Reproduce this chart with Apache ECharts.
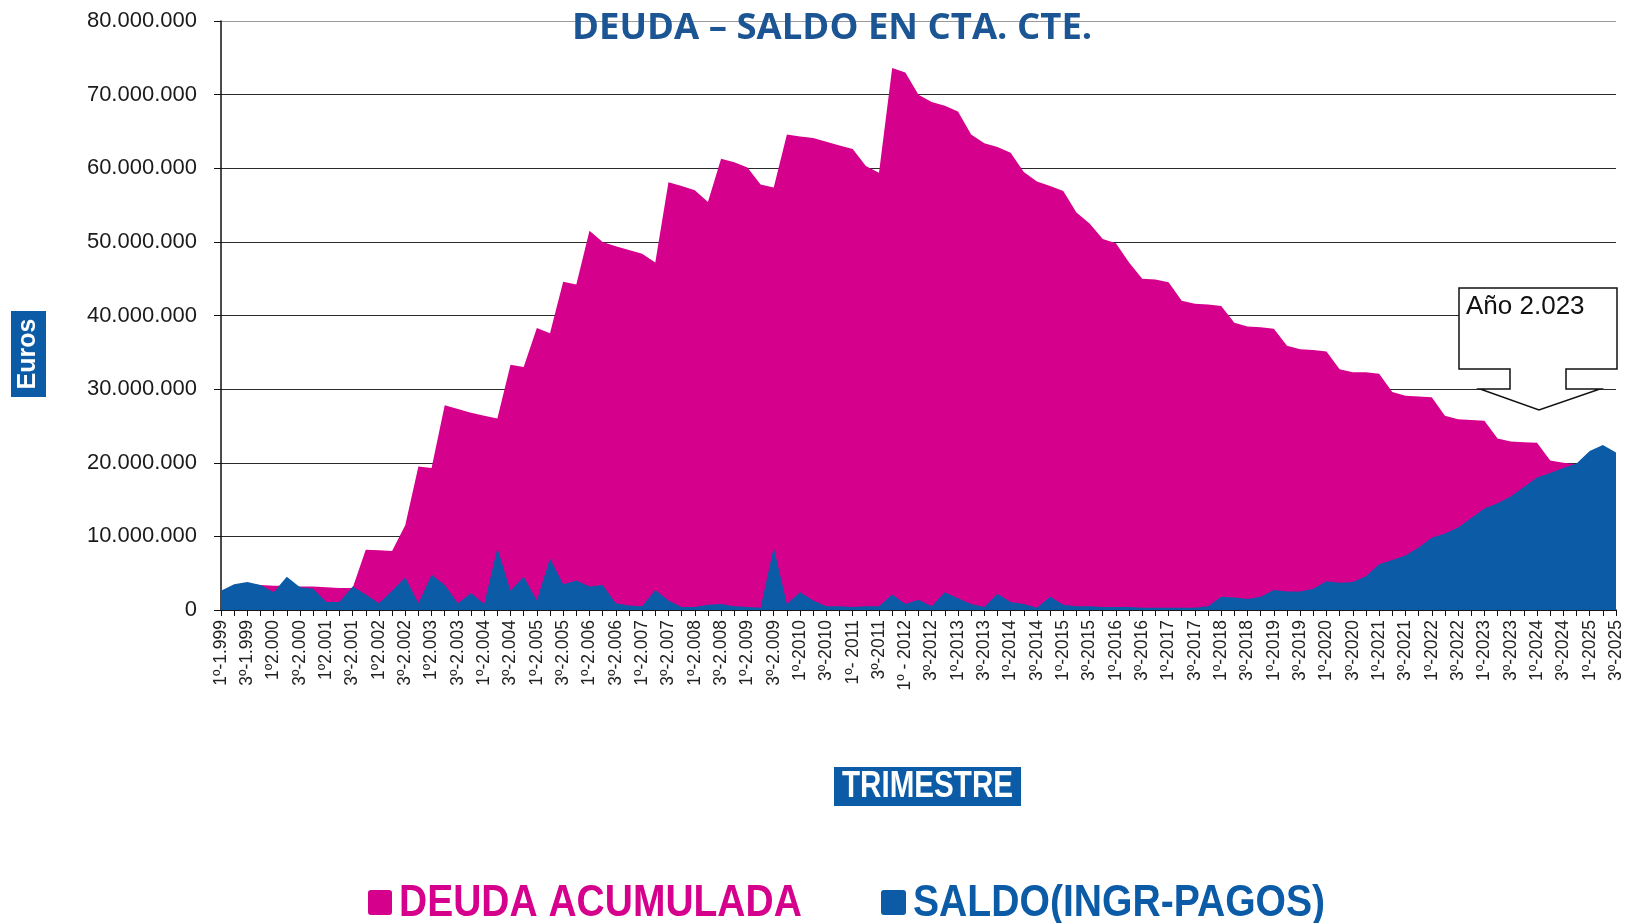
<!DOCTYPE html>
<html lang="es">
<head>
<meta charset="utf-8">
<title>Deuda – Saldo en cta. cte.</title>
<script src="https://cdn.jsdelivr.net/npm/echarts@6/dist/echarts.min.js"></script>
<style>
  html, body { margin: 0; padding: 0; background: #ffffff; }
  #chart { width: 1625px; height: 923px; }
</style>
</head>
<body>
<div id="chart"></div>
<script>
// Trimestres (etiqueta visible cada dos trimestres)
const categorias = [
  "1º-1.999","2º-1.999","3º-1.999","4º-1.999",
  "1º2.000","2º-2.000","3º-2.000","4º-2.000",
  "1º2.001","2º-2.001","3º-2.001","4º-2.001",
  "1º2.002","2º-2.002","3º-2.002","4º-2.002",
  "1º2.003","2º-2.003","3º-2.003","4º-2.003",
  "1º-2.004","2º-2.004","3º-2.004","4º-2.004",
  "1º-2.005","2º-2.005","3º-2.005","4º-2.005",
  "1º-2.006","2º-2.006","3º-2.006","4º-2.006",
  "1º-2.007","2º-2.007","3º-2.007","4º-2.007",
  "1º-2.008","2º-2.008","3º-2.008","4º-2.008",
  "1º-2.009","2º-2.009","3º-2.009","4º-2.009",
  "1º-2010","2º-2010","3º-2010","4º-2010",
  "1º- 2011","2º-2011","3º-2011","4º-2011",
  "1º - 2012","2º-2012","3º-2012","4º-2012",
  "1º-2013","2º-2013","3º-2013","4º-2013",
  "1º-2014","2º-2014","3º-2014","4º-2014",
  "1º-2015","2º-2015","3º-2015","4º-2015",
  "1º-2016","2º-2016","3º-2016","4º-2016",
  "1º-2017","2º-2017","3º-2017","4º-2017",
  "1º-2018","2º-2018","3º-2018","4º-2018",
  "1º-2019","2º-2019","3º-2019","4º-2019",
  "1º-2020","2º-2020","3º-2020","4º-2020",
  "1º-2021","2º-2021","3º-2021","4º-2021",
  "1º-2022","2º-2022","3º-2022","4º-2022",
  "1º-2023","2º-2023","3º-2023","4º-2023",
  "1º-2024","2º-2024","3º-2024","4º-2024",
  "1º-2025","2º-2025","3º-2025"
];

// Deuda acumulada (euros)
const deudaAcumulada = [
  2500000, 3300000, 3500000, 3400000, 3300000, 3300000, 3200000, 3200000,
  3100000, 3000000, 3000000, 8200000, 8100000, 8000000, 11500000, 19500000,
  19300000, 27800000, 27300000, 26800000, 26400000, 26000000, 33300000, 33000000,
  38300000, 37600000, 44600000, 44200000, 51500000, 50000000, 49400000, 48900000,
  48400000, 47200000, 58100000, 57600000, 57000000, 55400000, 61300000, 60800000,
  60100000, 57800000, 57400000, 64600000, 64300000, 64100000, 63600000, 63100000,
  62600000, 60300000, 59400000, 73600000, 73000000, 70000000, 69000000, 68500000,
  67700000, 64600000, 63400000, 62900000, 62100000, 59500000, 58200000, 57600000,
  56900000, 54000000, 52500000, 50400000, 49800000, 47200000, 45000000, 44900000,
  44500000, 42000000, 41600000, 41500000, 41300000, 39000000, 38500000, 38400000,
  38200000, 35900000, 35400000, 35300000, 35100000, 32700000, 32300000, 32300000,
  32100000, 29600000, 29100000, 29000000, 28900000, 26400000, 25900000, 25800000,
  25700000, 23300000, 22900000, 22800000, 22700000, 20300000, 20000000, 19800000,
  19500000, 19200000, 18900000
];

// Saldo trimestral: ingresos - pagos (euros)
const saldoIngrPagos = [
  2600000, 3500000, 3800000, 3400000, 2400000, 4500000, 3100000, 2900000,
  1100000, 1100000, 3200000, 2100000, 900000, 2600000, 4400000, 900000,
  4800000, 3400000, 900000, 2300000, 800000, 8400000, 2600000, 4500000,
  1300000, 7000000, 3500000, 4000000, 3200000, 3400000, 900000, 600000,
  500000, 2700000, 1300000, 400000, 400000, 700000, 800000, 500000,
  400000, 300000, 8500000, 800000, 2400000, 1300000, 500000, 500000,
  400000, 500000, 500000, 2100000, 800000, 1400000, 500000, 2400000,
  1600000, 800000, 400000, 2200000, 1100000, 800000, 300000, 1800000,
  700000, 500000, 500000, 400000, 400000, 400000, 300000, 300000,
  300000, 300000, 300000, 500000, 1800000, 1700000, 1500000, 1800000,
  2700000, 2500000, 2500000, 2900000, 3900000, 3700000, 3800000, 4600000,
  6200000, 6800000, 7400000, 8500000, 9800000, 10400000, 11200000, 12500000,
  13800000, 14500000, 15400000, 16700000, 18000000, 18600000, 19300000, 19900000,
  21600000, 22400000, 21400000
];

// Escala del eje de euros
const ejeMin = 0;
const ejeMax = 80000000;
const ejeIntervalo = 10000000;

const nombreDeuda = "DEUDA ACUMULADA";
const nombreSaldo = "SALDO(INGR-PAGOS)";
const colorDeuda = "#d5008c";
const colorSaldo = "#0b5ba7";
const azulRotulo = "#0b5ba7";
const fuenteSans = "'Liberation Sans', Arial, sans-serif";

function miles(v) {
  return String(v).replace(/\B(?=(\d{3})+(?!\d))/g, ".");
}

// Texto en negrita estrechado horizontalmente (estilo "narrow")
function textoEstrecho(x, y, texto, color, size, escala, align) {
  return {
    type: "text",
    x: x, y: y,
    scaleX: escala,
    style: {
      text: texto,
      fill: color,
      font: "bold " + size + "px " + fuenteSans,
      align: align,
      verticalAlign: "middle"
    }
  };
}

const chart = echarts.init(document.getElementById("chart"), null, {
  renderer: "canvas", width: 1625, height: 923
});

const option = {
  animation: false,
  backgroundColor: "#ffffff",
  title: {
    text: "DEUDA – SALDO EN CTA. CTE.",
    left: 567,
    top: 5,
    textStyle: {
      fontFamily: "'Open Sans', sans-serif",
      fontWeight: "bold",
      fontSize: 36.5,
      color: "#1c5593"
    }
  },
  grid: { left: 221, right: 1, top: 21, bottom: 313 },
  xAxis: {
    type: "category",
    data: categorias,
    boundaryGap: false,
    axisLine: { lineStyle: { color: "#111111", width: 1.5 } },
    axisTick: { show: true, interval: 0, length: 6, lineStyle: { color: "#111111" } },
    axisLabel: {
      interval: 1,
      rotate: 90,
      margin: 10,
      fontFamily: fuenteSans,
      fontSize: 17.5,
      color: "#222222"
    },
    splitLine: { show: false }
  },
  yAxis: {
    type: "value",
    min: ejeMin,
    max: ejeMax,
    interval: ejeIntervalo,
    axisLine: { show: true, lineStyle: { color: "#111111", width: 1.5 } },
    axisTick: { show: true, length: 7, lineStyle: { color: "#111111" } },
    axisLabel: {
      margin: 24,
      formatter: miles,
      fontFamily: fuenteSans,
      fontSize: 22,
      color: "#1a1a1a"
    },
    splitLine: {
      lineStyle: {
        color: ["#2a2a2a", "#2a2a2a", "#2a2a2a", "#2a2a2a", "#2a2a2a", "#2a2a2a", "#2a2a2a", "#2a2a2a", "#9a9a9a"],
        width: 1.2
      }
    }
  },
  series: [
    {
      name: nombreDeuda,
      type: "line",
      data: deudaAcumulada,
      symbol: "none",
      color: colorDeuda,
      lineStyle: { width: 0 },
      areaStyle: { color: colorDeuda, opacity: 1 },
      z: 2
    },
    {
      name: nombreSaldo,
      type: "line",
      data: saldoIngrPagos,
      symbol: "none",
      color: colorSaldo,
      lineStyle: { width: 0 },
      areaStyle: { color: colorSaldo, opacity: 1 },
      z: 3
    }
  ],
  graphic: [
    // Rótulo del eje vertical
    {
      type: "group",
      x: 11,
      y: 311,
      children: [
        { type: "rect", shape: { x: 0, y: 0, width: 35, height: 86 }, style: { fill: azulRotulo } },
        {
          type: "text",
          x: 17.5, y: 43,
          rotation: Math.PI / 2,
          style: {
            text: "Euros",
            fill: "#ffffff",
            font: "bold 25px " + fuenteSans,
            align: "center",
            verticalAlign: "middle"
          }
        }
      ]
    },
    // Rótulo del eje horizontal
    {
      type: "group",
      x: 834,
      y: 767,
      children: [
        { type: "rect", shape: { x: 0, y: 0, width: 187, height: 39 }, style: { fill: azulRotulo } },
        textoEstrecho(93.5, 20, "TRIMESTRE", "#ffffff", 37, 0.8, "center")
      ]
    },
    // Leyenda
    {
      type: "group",
      x: 368,
      y: 890,
      children: [
        { type: "rect", shape: { x: 0, y: 0, width: 24, height: 25, r: 3 }, style: { fill: colorDeuda } },
        textoEstrecho(31, 14, nombreDeuda, colorDeuda, 44, 0.886, "left"),
        { type: "rect", shape: { x: 513, y: 0, width: 25, height: 25, r: 3 }, style: { fill: colorSaldo } },
        textoEstrecho(545, 14, nombreSaldo, colorSaldo, 44, 0.889, "left")
      ]
    },
    // Llamada "Año 2.023"
    {
      type: "polygon",
      shape: {
        points: [
          [1459, 288], [1617, 288], [1617, 369], [1566, 369], [1566, 389],
          [1600, 389], [1539, 410], [1480, 389], [1510, 389], [1510, 369], [1459, 369]
        ]
      },
      style: { fill: "#ffffff", stroke: "#111111", lineWidth: 1.5 },
      z: 100
    },
    {
      type: "text",
      x: 1466, y: 307,
      style: {
        text: "Año 2.023",
        fill: "#111111",
        font: "26px " + fuenteSans,
        align: "left",
        verticalAlign: "middle"
      },
      z: 101
    }
  ]
};

chart.setOption(option);
</script>
</body>
</html>
